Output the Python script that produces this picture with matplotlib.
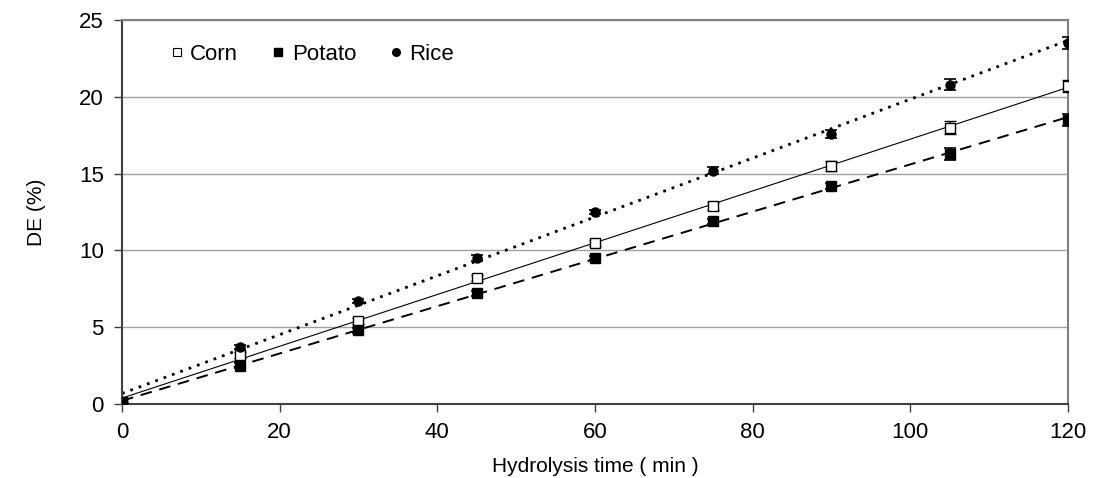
import numpy as np
import matplotlib.pyplot as plt
from matplotlib.lines import Line2D

plt.rcParams['font.family'] = ['Liberation Sans', 'DejaVu Sans']

time = [0, 15, 30, 45, 60, 75, 90, 105, 120]
corn = [0.1, 3.2, 5.4, 8.2, 10.5, 12.9, 15.5, 18.0, 20.7]
potato = [0.1, 2.5, 4.8, 7.2, 9.5, 11.9, 14.2, 16.3, 18.5]
rice = [0.1, 3.7, 6.7, 9.5, 12.5, 15.2, 17.6, 20.8, 23.5]
corn_err = [0.05, 0.2, 0.2, 0.2, 0.2, 0.25, 0.3, 0.4, 0.4]
potato_err = [0.05, 0.15, 0.15, 0.15, 0.15, 0.15, 0.2, 0.4, 0.4]
rice_err = [0.05, 0.15, 0.15, 0.2, 0.15, 0.25, 0.25, 0.35, 0.4]

fig = plt.figure(figsize=(10.93, 4.78), dpi=100)
ax = fig.add_axes([0.1116, 0.1548, 0.8654, 0.8033])

t = np.array(time, dtype=float)
tt = np.array([0, 120])
# linear trend lines (excel style)
for y, ls, lw in [(rice, (0, (1, 2.2)), 2.0), (corn, '-', 0.8), (potato, (0, (6, 4)), 1.4)]:
    k, b = np.polyfit(t, y, 1)
    ax.plot(tt, k * tt + b, color='black', linestyle=ls, linewidth=lw, zorder=2)

ax.errorbar(time, corn, yerr=corn_err, fmt='s', mfc='white', mec='black', ms=7, mew=1.0,
            ecolor='black', elinewidth=1.2, capsize=4, capthick=1.2, zorder=3)
ax.errorbar(time, potato, yerr=potato_err, fmt='s', color='black', ms=7,
            ecolor='black', elinewidth=1.2, capsize=4, capthick=1.2, zorder=3)
ax.errorbar(time, rice, yerr=rice_err, fmt='o', color='black', ms=6.5,
            ecolor='black', elinewidth=1.2, capsize=4, capthick=1.2, zorder=3)

ax.set_xlim(0, 120)
ax.set_ylim(0, 25)
ax.set_xticks(range(0, 121, 20))
ax.set_yticks(range(0, 26, 5))
ax.yaxis.grid(True, color='#a0a0a0', linewidth=1)
ax.set_axisbelow(True)
for s in ['top', 'right']:
    ax.spines[s].set_color('#808080')
    ax.spines[s].set_linewidth(1.5)
for s in ['left', 'bottom']:
    ax.spines[s].set_color('#404040')
    ax.spines[s].set_linewidth(1.5)
ax.tick_params(direction='out', length=6, width=1, color='#404040', labelsize=16, pad=7)

ax.set_xlabel('Hydrolysis time ( min )', fontsize=15, labelpad=10)
ax.set_ylabel('DE (%)', fontsize=15, labelpad=24)

handles = [
    Line2D([], [], linestyle='none', marker='s', mfc='white', mec='black', ms=6, mew=0.8),
    Line2D([], [], linestyle='none', marker='s', color='black', ms=6),
    Line2D([], [], linestyle='none', marker='o', color='black', ms=5.5),
]
ax.legend(handles, ['Corn', 'Potato', 'Rice'], loc='upper left', bbox_to_anchor=(0.03, 0.99),
          ncol=3, frameon=False, fontsize=16, handlelength=0.6, handletextpad=0.3,
          columnspacing=1.5)

fig.savefig('out.png', dpi=100)
